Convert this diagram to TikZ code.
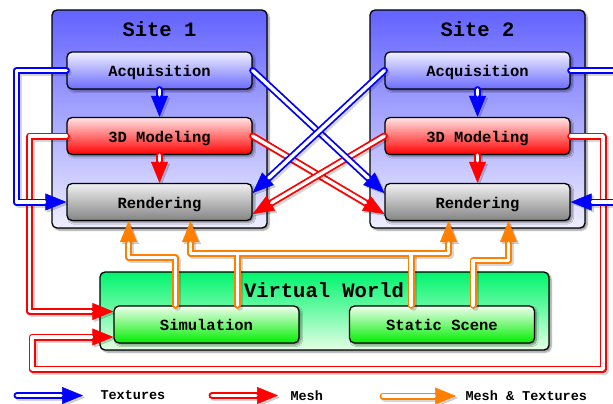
\documentclass[tikz,border=0pt]{standalone}
\usepackage{fontspec}
\setmonofont{Liberation Mono}
\usepackage{tikz}
\usetikzlibrary{arrows.meta, shadows.blur}

\definecolor{sitetop}{RGB}{98,98,255}
\definecolor{sitebot}{RGB}{238,238,255}
\definecolor{acqtop}{RGB}{240,240,255}
\definecolor{acqbot}{RGB}{108,108,255}
\definecolor{modtop}{RGB}{255,228,228}
\definecolor{modbot}{RGB}{255,0,0}
\definecolor{rendtop}{RGB}{240,240,240}
\definecolor{rendbot}{RGB}{132,132,132}
\definecolor{vwtop}{RGB}{0,245,110}
\definecolor{vwbot}{RGB}{228,255,228}
\definecolor{simtop}{RGB}{238,255,238}
\definecolor{simbot}{RGB}{0,238,0}
\definecolor{mtorange}{RGB}{255,128,0}

\tikzset{
  frame/.style={draw=black, line width=1.3pt, rounded corners=5pt,
    blur shadow={shadow xshift=2pt, shadow yshift=-2pt, shadow blur steps=6, shadow opacity=45}},
  site/.style={frame, top color=sitetop, bottom color=sitebot, minimum width=215pt, minimum height=218pt},
  box/.style={frame, minimum width=185pt, minimum height=37pt, inner sep=0pt,
    text height=12pt, text depth=0pt,
    font=\ttfamily\bfseries\fontsize{15.5}{18}\selectfont},
  acq/.style={box, top color=acqtop, bottom color=acqbot},
  model/.style={box, top color=modtop, bottom color=modbot},
  rend/.style={box, top color=rendtop, bottom color=rendbot},
  sim/.style={box, top color=simtop, bottom color=simbot},
  world/.style={frame, top color=vwtop, bottom color=vwbot, minimum width=449pt, minimum height=78pt},
  title/.style={font=\ttfamily\bfseries\fontsize{20.5}{24}\selectfont},
  legend/.style={font=\ttfamily\bfseries\fontsize{13.5}{16}\selectfont},
  % two-tone connectors: coloured outline with head, white core on top
  flow/.style={line width=7pt, line cap=round, line join=round, shorten >=0pt,
    -{Triangle[length=21pt,width=17pt,line width=0.5pt]}},
  shade/.style={draw=black, opacity=0.16, flow, transform canvas={shift={(2pt,-2pt)}}},
  core/.style={draw=white, line width=3.4pt, line cap=round, line join=round, shorten >=22pt},
  tex/.style={preaction={shade}, preaction={draw=blue, flow}, core},
  mesh/.style={preaction={shade}, preaction={draw=red, flow}, core},
  mtex/.style={preaction={shade}, preaction={draw=mtorange, flow}, core},
  mtout/.style={draw=mtorange, flow},
  mtin/.style={core}
}

\begin{document}
\begin{tikzpicture}[x=1pt, y=-1pt]
\useasboundingbox (0,0) rectangle (613,404);
% the two sites
\node[site] (site1) at (159.5,119) {};
\node[site] (site2) at (477.5,119) {};
\node[title] (name1) at (159.5,29) {Site 1};
\node[title] (name2) at (477.5,29) {Site 2};
\node[acq] (acq1) at (159.5,70.5) {Acquisition};
\node[model] (mod1) at (159.5,136) {3D Modeling};
\node[rend] (rend1) at (159.5,202) {Rendering};
\node[acq] (acq2) at (477.5,70.5) {Acquisition};
\node[model] (mod2) at (477.5,136) {3D Modeling};
\node[rend] (rend2) at (477.5,202) {Rendering};
% shared world
\node[world] (world) at (324.5,311) {};
\node[title] (wname) at (324,290) {Virtual World};
\node[sim] (sim) at (206.5,324.5) {Simulation};
\node[sim] (stat) at (442,324.5) {Static Scene};

% mesh
\draw[mesh] (mod1.south) -- (rend1.north);
\draw[mesh] (mod2.south) -- (rend2.north);
\draw[mesh] (mod1.west) -- ++(-37,0) |- ([yshift=13pt]sim.west);
\draw[mesh] (mod2.east) -| (603,369) -| (32,337) -- ([yshift=-12.5pt]sim.west);
\draw[mesh] (mod1.east) -- ([yshift=-12pt]rend2.west);
\draw[mesh] (mod2.west) -- ([yshift=-12pt]rend1.east);

% textures
\draw[tex] (acq1.south) -- (mod1.north);
\draw[tex] (acq2.south) -- (mod2.north);
\draw[tex] (acq1.west) -- ++(-50,0) |- (rend1.west);
\draw[tex] (acq2.east) -- ++(80,0);
\draw[tex] ([xshift=50pt]rend2.east) -- (rend2.east);
\draw[tex] (acq1.east) -- ([yshift=9pt]rend2.west);
\draw[tex] (acq2.west) -- ([yshift=9pt]rend1.east);

% mesh & textures, outlines first so the branches merge
\foreach \lay in {shade, mtout, mtin} {
  \draw[\lay] ([xshift=-31pt]sim.north) -- ++(0,-48) -| ([xshift=-31pt]rend1.south);
  \draw[\lay] ([xshift=31pt]sim.north) -- ++(0,-52) -| ([xshift=-29pt]rend2.south);
  \draw[\lay] ([xshift=-31pt]stat.north) -- ++(0,-52) -| ([xshift=31pt]rend1.south);
  \draw[\lay] ([xshift=31pt]stat.north) -- ++(0,-45) -| ([xshift=31pt]rend2.south);
}

% legend
\node[legend, anchor=west] (ltex) at (97,395.5) {Textures};
\node[legend, anchor=west] (lmesh) at (287,395.5) {Mesh};
\node[legend, anchor=west] (lmt) at (462,396) {Mesh \& Textures};
\draw[tex] ([xshift=-80pt]ltex.west) -- ([xshift=-14pt]ltex.west);
\draw[mesh] ([xshift=-75pt]lmesh.west) -- ([xshift=-9pt]lmesh.west);
\draw[mtex] ([xshift=-79pt]lmt.west) -- ([xshift=-6pt]lmt.west);
\end{tikzpicture}
\end{document}
